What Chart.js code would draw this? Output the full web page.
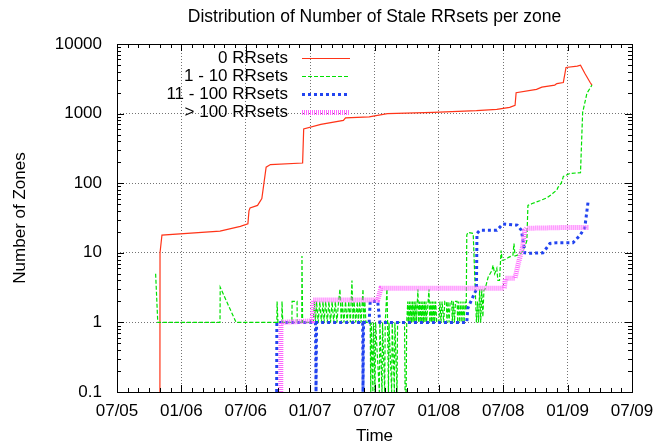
<!DOCTYPE html>
<html>
<head>
<meta charset="utf-8">
<script src="https://cdn.jsdelivr.net/npm/chart.js@4/dist/chart.umd.min.js"></script>
<style>
  html, body { margin: 0; padding: 0; background: #fff; }
  #wrap { width: 654px; height: 443px; }
</style>
</head>
<body>
<div id="wrap"><canvas id="staleChart"></canvas></div>
<script>
// x values are months since July 2005
const xTickValues = [0, 6, 12, 18, 24, 30, 36, 42, 48];
const xTickLabels = ['07/05', '01/06', '07/06', '01/07', '07/07', '01/08', '07/08', '01/09', '07/09'];
const yTickValues = [0.1, 1, 10, 100, 1000, 10000];
const yTickLabels = ['0.1', '1', '10', '100', '1000', '10000'];

const zeroRRsets = [
  [4.0, 0.1], [4.01, 10], [4.19, 18], [9.6, 20.5], [11.5, 24], [12.2, 26], [12.3, 40], [12.4, 44],
  [13.1, 48], [13.5, 60], [13.9, 170], [14.3, 185], [17.3, 195], [17.4, 600], [19.0, 700], [21.1, 800],
  [21.3, 870], [23.5, 900], [25.2, 1000], [29.5, 1040], [33.5, 1100], [35.4, 1150], [36.6, 1230],
  [37.1, 1310], [37.2, 2000], [39.1, 2230], [39.6, 2400], [40.8, 2570], [41.0, 2700], [41.6, 2800],
  [41.85, 4600], [42.9, 4800], [43.2, 4950], [43.6, 3800], [44.1, 2800], [44.27, 2570],
];

const oneToTenRRsets = [
  [3.6, 5], [3.8, 1], [9.6, 1], [9.62, 3.2], [11.1, 1],
  [14.9, 1], [14.92, 2], [15.0, 1], [15.36, 1], [15.38, 2], [15.45, 1],
  [16.3, 1], [16.32, 2], [16.78, 2], [16.8, 1], [17.22, 1], [17.24, 9], [17.3, 1],
  [18.3, 1], [18.4, 2], [18.5, 1], [18.6, 2], [18.75, 1], [18.9, 2], [19.05, 1], [19.2, 2], [19.3, 1],
  [19.45, 2], [19.6, 1], [19.75, 2], [19.9, 1], [20.05, 2], [20.2, 1], [20.35, 2], [20.5, 1], [20.65, 2],
  [20.78, 3], [20.9, 1], [21.0, 2], [21.15, 1], [21.3, 2], [21.45, 1], [21.6, 2], [21.75, 1], [21.9, 4],
  [22.0, 1], [22.1, 2], [22.25, 1], [22.4, 2], [22.5, 1], [22.62, 2], [22.75, 1], [22.93, 3], [23.0, 1],
  [23.1, 2], [23.2, 1],
  [23.6, 1], [23.65, 0.1], [23.7, 1], [23.85, 0.1], [23.9, 1], [24.05, 0.1], [24.1, 1], [24.45, 0.1],
  [24.5, 1], [24.7, 0.1], [24.75, 1], [24.95, 0.1], [25.0, 1], [25.16, 3], [25.22, 1], [25.3, 0.1],
  [25.35, 1], [25.6, 0.1], [25.65, 1], [25.85, 0.1], [25.9, 1], [26.1, 0.1], [26.15, 1], [26.8, 1],
  [26.85, 0.1], [26.95, 0.1], [27.0, 1],
  [27.1, 2], [27.15, 1], [27.25, 2], [27.3, 1], [27.4, 2], [27.45, 1], [27.55, 2], [27.6, 1], [27.7, 2],
  [27.75, 1], [27.85, 2], [27.9, 1], [28.05, 3], [28.1, 1], [28.2, 2], [28.25, 1], [28.35, 2], [28.4, 1],
  [28.5, 2], [28.55, 1], [28.65, 2], [28.7, 1], [28.8, 2], [28.85, 1], [29.08, 3], [29.15, 1], [29.25, 2],
  [29.3, 1], [29.4, 2], [29.45, 1], [29.55, 2], [29.6, 1], [29.7, 2], [29.8, 1],
  [30.0, 1], [30.1, 2], [30.2, 1], [30.3, 2], [30.45, 1], [30.55, 2], [30.7, 2], [30.75, 1], [30.85, 2],
  [30.95, 1], [31.05, 2], [31.2, 2], [31.25, 1], [31.35, 2], [31.45, 1], [31.55, 2], [31.7, 2], [31.75, 1],
  [31.85, 2], [31.95, 1], [32.05, 2], [32.15, 1], [32.25, 2], [32.35, 1], [32.45, 2], [32.55, 1.5],
  [32.6, 18], [32.7, 19.6], [33.2, 19], [33.5, 1], [33.6, 2], [33.7, 1], [33.8, 3], [33.9, 1], [34.0, 3],
  [34.1, 1.2], [34.2, 2.9], [34.3, 3], [34.6, 4.5], [34.95, 5.6], [35.05, 6.6], [35.2, 5], [35.4, 6],
  [35.5, 4], [35.65, 4], [35.8, 10.8], [35.9, 7.8], [36.2, 8], [36.5, 8.6], [36.9, 9.2], [37.0, 13.6],
  [37.1, 9], [37.5, 9.5], [37.7, 10], [38.0, 12], [38.2, 15], [38.3, 48], [38.7, 51], [39.4, 56],
  [40.1, 62], [40.6, 71], [41.0, 80], [41.1, 87], [41.4, 100], [41.5, 110], [41.6, 125], [42.2, 138],
  [43.2, 142], [43.4, 1040], [43.8, 1960], [44.27, 2570],
];

const elevenToHundredRRsets = [
  [14.88, 0.1], [14.9, 1], [18.5, 1], [18.55, 0.1], [18.6, 1], [22.9, 1], [22.93, 0.1], [22.98, 1],
  [23.5, 1], [23.6, 2], [24.3, 2], [24.5, 1], [32.6, 1], [32.7, 1.6], [33.5, 3], [33.55, 19], [33.8, 21],
  [35.4, 21], [35.97, 26], [37.3, 25], [37.7, 21], [38.0, 10], [38.3, 9.8], [39.7, 10], [40.35, 13.6],
  [41.0, 14], [42.5, 14], [43.15, 17.8], [43.6, 23], [43.9, 53], [44.1, 56],
];

const overHundredRRsets = [
  [15.26, 0.1], [15.28, 1], [18.2, 1.05], [18.3, 2.1], [24.3, 2.1], [24.6, 3.1], [36.1, 3.1], [36.2, 4.3],
  [37.1, 4.3], [37.4, 7], [37.8, 12], [38.0, 21], [38.2, 22.5], [41.3, 23], [44.0, 23],
];

const FONT = "'Liberation Sans', Arial, Helvetica, sans-serif";
Chart.defaults.font.family = FONT;
Chart.defaults.color = '#000';

const toPoints = (rows) => rows.map(([x, y]) => ({ x, y }));

// gnuplot look: solid frame, inward major/minor ticks, title, key in the top-left corner
const gnuplotFrame = {
  id: 'gnuplotFrame',
  afterDatasetsDraw(chart) {
    const { ctx, chartArea: a, scales: { x, y } } = chart;
    ctx.save();
    ctx.strokeStyle = '#000';
    ctx.lineWidth = 1;
    ctx.setLineDash([]);
    ctx.beginPath();
    for (let m = 0; m <= 48; m++) {
      const px = Math.round(x.getPixelForValue(m)) + 0.5;
      const len = m % 6 === 0 ? 7 : 4;
      ctx.moveTo(px, a.bottom); ctx.lineTo(px, a.bottom - len);
      ctx.moveTo(px, a.top); ctx.lineTo(px, a.top + len);
    }
    for (let d = 0.1; d < 10000; d *= 10) {
      for (let k = 1; k <= 10; k++) {
        const py = Math.round(y.getPixelForValue(d * k)) + 0.5;
        const len = (k === 1 || k === 10) ? 7 : 4;
        ctx.moveTo(a.left, py); ctx.lineTo(a.left + len, py);
        ctx.moveTo(a.right, py); ctx.lineTo(a.right - len, py);
      }
    }
    ctx.stroke();
    ctx.strokeRect(Math.round(a.left) + 0.5, Math.round(a.top) + 0.5,
      Math.round(a.right - a.left), Math.round(a.bottom - a.top));

    ctx.fillStyle = '#000';
    ctx.font = '17.5px ' + FONT;
    ctx.textAlign = 'center';
    ctx.textBaseline = 'middle';
    ctx.fillText('Distribution of Number of Stale RRsets per zone', (a.left + a.right) / 2, 17);

    ctx.font = '17px ' + FONT;
    ctx.textAlign = 'right';
    chart.data.datasets.forEach((ds, i) => {
      const ty = 58 + i * 18;
      ctx.fillText(ds.label, 288, ty);
      ctx.save();
      ctx.strokeStyle = ds.borderColor;
      ctx.lineWidth = ds.borderWidth;
      ctx.setLineDash(ds.borderDash || []);
      ctx.beginPath();
      ctx.moveTo(302, ty + 0.5);
      ctx.lineTo(350, ty + 0.5);
      ctx.stroke();
      ctx.restore();
    });
    ctx.restore();
  },
};

const ctxStale = document.getElementById('staleChart').getContext('2d');
new Chart(ctxStale, {
  type: 'line',
  data: {
    datasets: [
      { label: '0 RRsets', data: toPoints(zeroRRsets), borderColor: '#ff3418', borderWidth: 1.2, order: 4 },
      { label: '1 - 10 RRsets', data: toPoints(oneToTenRRsets), borderColor: '#00e000', borderWidth: 1.2, borderDash: [4, 2], order: 3 },
      { label: '11 - 100 RRsets', data: toPoints(elevenToHundredRRsets), borderColor: '#2244f0', borderWidth: 3, borderDash: [3, 3], order: 2 },
      { label: '> 100 RRsets', data: toPoints(overHundredRRsets), borderColor: '#ff66ff', borderWidth: 5, borderDash: [1, 1], order: 1 },
    ],
  },
  options: {
    responsive: true,
    maintainAspectRatio: false,
    animation: false,
    layout: { padding: { top: 44, right: 22, left: 0, bottom: 0 } },
    elements: { point: { radius: 0, hoverRadius: 0 }, line: { tension: 0, fill: false } },
    plugins: { legend: { display: false }, tooltip: { enabled: false }, title: { display: false } },
    scales: {
      x: {
        type: 'linear',
        min: 0,
        max: 48,
        afterBuildTicks(scale) { scale.ticks = xTickValues.map((v) => ({ value: v })); },
        afterFit(scale) { scale.height = 51; scale.paddingLeft = 0; scale.paddingRight = 0; },
        ticks: {
          autoSkip: false,
          maxRotation: 0,
          padding: 9,
          font: { size: 17 },
          callback(value, index) { return xTickLabels[index]; },
        },
        grid: { color: 'rgba(0, 0, 0, 0.55)', drawTicks: false },
        border: { display: false, dash: [1, 2] },
        title: { display: true, text: 'Time', font: { size: 17, lineHeight: 0.8 }, padding: 0 },
      },
      y: {
        type: 'logarithmic',
        min: 0.1,
        max: 10000,
        afterBuildTicks(scale) { scale.ticks = yTickValues.map((v) => ({ value: v })); },
        afterFit(scale) { scale.width = 117; scale.paddingTop = 0; scale.paddingBottom = 0; },
        ticks: {
          padding: 15,
          font: { size: 17 },
          callback(value, index) { return yTickLabels[index]; },
        },
        grid: { color: 'rgba(0, 0, 0, 0.55)', drawTicks: false },
        border: { display: false, dash: [1, 2] },
        title: { display: true, text: 'Number of Zones', font: { size: 17 }, padding: { top: 10, bottom: 0 } },
      },
    },
  },
  plugins: [gnuplotFrame],
});
</script>
</body>
</html>
